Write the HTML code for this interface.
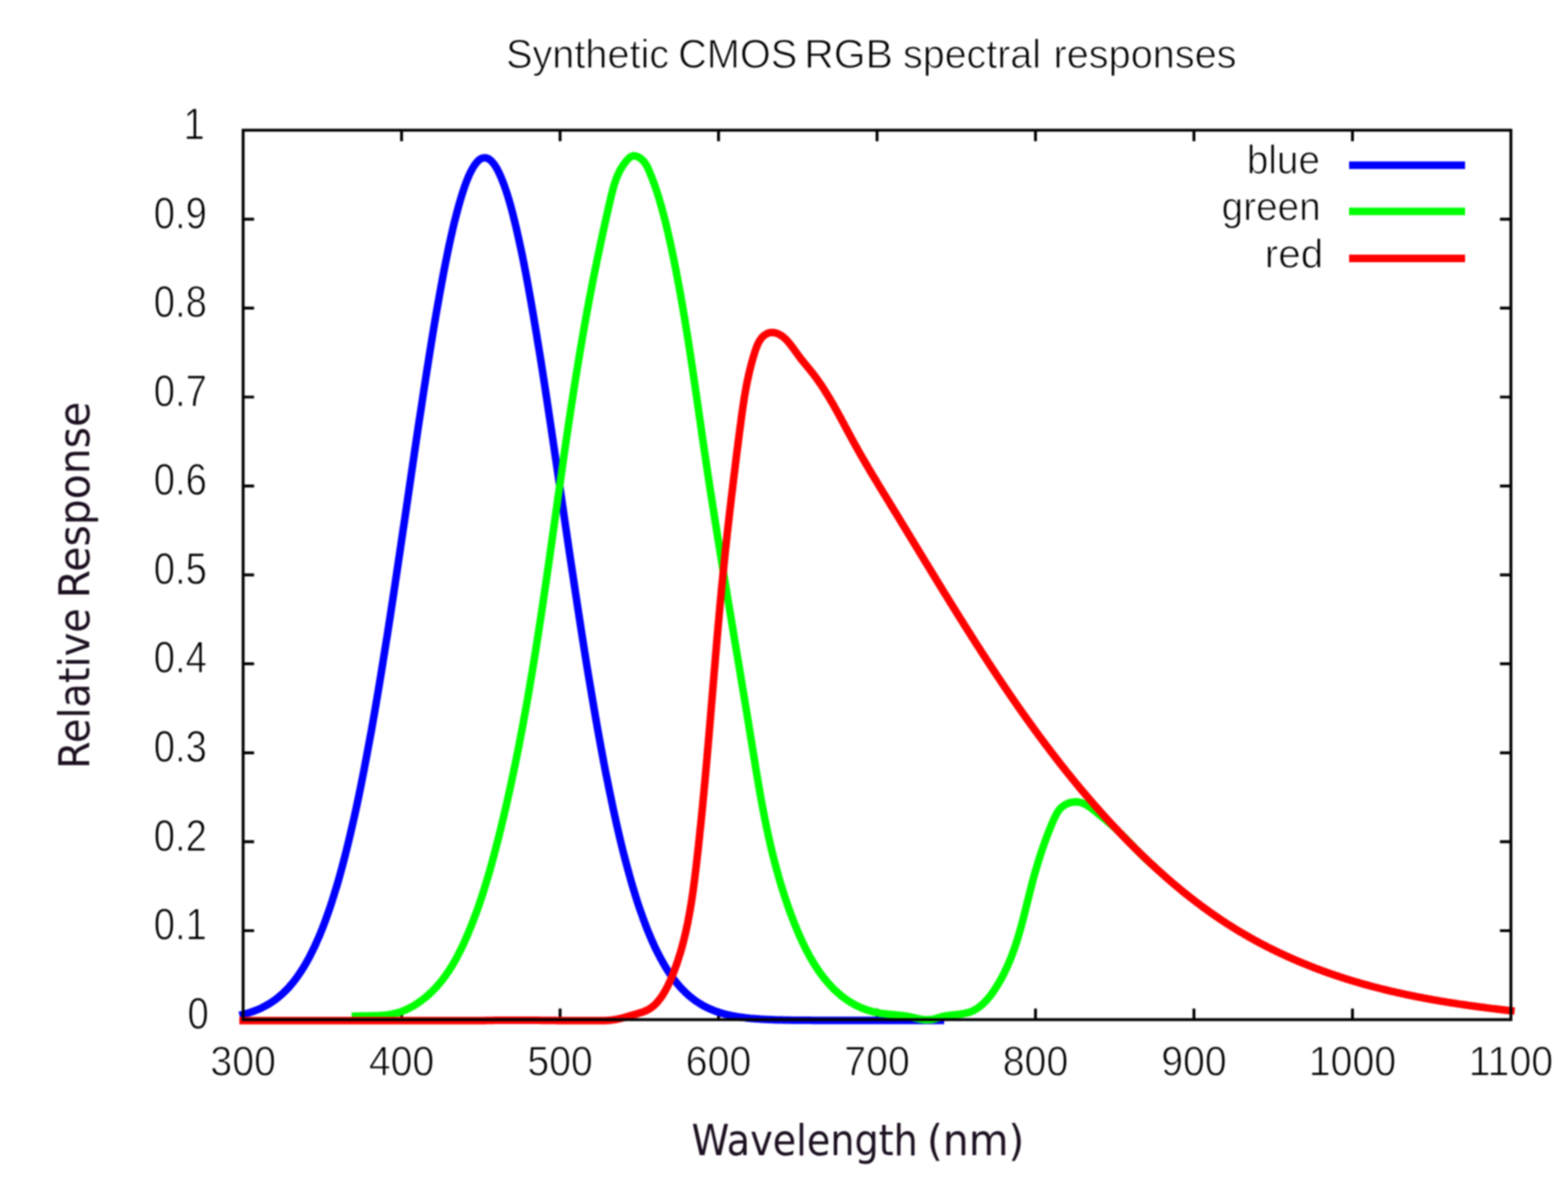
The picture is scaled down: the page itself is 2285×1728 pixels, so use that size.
<!DOCTYPE html>
<html><head><meta charset="utf-8"><title>Synthetic CMOS RGB spectral responses</title><style>html,body{margin:0;padding:0;background:#fff;overflow:hidden}svg{display:block;filter:blur(0.8px)}</style></head><body>
<svg width="2285" height="1728" viewBox="0 0 2285 1728">
<rect width="2285" height="1728" fill="#fff"/>
<g stroke="#000" stroke-width="4.2" fill="none">
<path d="M354.3,1356.0h16M2201.8,1356.0h-16M354.3,1226.4h16M2201.8,1226.4h-16M354.3,1096.8h16M2201.8,1096.8h-16M354.3,967.2h16M2201.8,967.2h-16M354.3,837.6h16M2201.8,837.6h-16M354.3,708.1h16M2201.8,708.1h-16M354.3,578.5h16M2201.8,578.5h-16M354.3,448.9h16M2201.8,448.9h-16M354.3,319.3h16M2201.8,319.3h-16M585.2,1485.6v-16M585.2,189.7v16M816.2,1485.6v-16M816.2,189.7v16M1047.1,1485.6v-16M1047.1,189.7v16M1278.1,1485.6v-16M1278.1,189.7v16M1509.0,1485.6v-16M1509.0,189.7v16M1739.9,1485.6v-16M1739.9,189.7v16M1970.9,1485.6v-16M1970.9,189.7v16"/>
</g>
<g fill="none" stroke-width="11" stroke-linejoin="round" stroke-linecap="square">
<polyline stroke="#0000ff" points="354.3,1478.0 356.6,1477.4 358.9,1476.7 361.2,1476.1 363.5,1475.4 365.8,1474.6 368.2,1473.8 370.5,1473.0 372.8,1472.1 375.1,1471.2 377.4,1470.2 379.7,1469.2 382.0,1468.1 384.3,1466.9 386.6,1465.7 388.9,1464.4 391.2,1463.1 393.6,1461.7 395.9,1460.2 398.2,1458.6 400.5,1457.0 402.8,1455.3 405.1,1453.4 407.4,1451.5 409.7,1449.6 412.0,1447.5 414.3,1445.3 416.7,1443.0 419.0,1440.6 421.3,1438.1 423.6,1435.4 425.9,1432.7 428.2,1429.8 430.5,1426.8 432.8,1423.7 435.1,1420.5 437.4,1417.1 439.7,1413.5 442.1,1409.9 444.4,1406.0 446.7,1402.0 449.0,1397.9 451.3,1393.6 453.6,1389.1 455.9,1384.4 458.2,1379.6 460.5,1374.6 462.8,1369.4 465.2,1364.1 467.5,1358.5 469.8,1352.7 472.1,1346.8 474.4,1340.6 476.7,1334.2 479.0,1327.7 481.3,1320.9 483.6,1313.9 485.9,1306.6 488.2,1299.2 490.6,1291.5 492.9,1283.6 495.2,1275.5 497.5,1267.1 499.8,1258.5 502.1,1249.7 504.4,1240.6 506.7,1231.3 509.0,1221.8 511.3,1212.0 513.6,1202.0 516.0,1191.7 518.3,1181.2 520.6,1170.5 522.9,1159.5 525.2,1148.3 527.5,1136.8 529.8,1125.2 532.1,1113.3 534.4,1101.1 536.7,1088.8 539.0,1076.2 541.4,1063.4 543.7,1050.4 546.0,1037.2 548.3,1023.7 550.6,1010.1 552.9,996.3 555.2,982.3 557.5,968.1 559.8,953.8 562.1,939.3 564.5,924.6 566.8,909.8 569.1,894.9 571.4,879.8 573.7,864.6 576.0,849.3 578.3,833.9 580.6,818.4 582.9,802.9 585.2,787.3 587.5,771.6 589.9,755.9 592.2,740.1 594.5,724.4 596.8,708.6 599.1,692.9 601.4,677.2 603.7,661.5 606.0,645.9 608.3,630.4 610.6,614.9 613.0,599.6 615.3,584.3 617.6,569.2 619.9,554.3 622.2,539.4 624.5,524.8 626.8,510.4 629.1,496.1 631.4,482.1 633.7,468.4 636.0,454.8 638.4,441.6 640.7,428.6 643.0,415.9 645.3,403.6 647.6,391.5 649.9,379.8 652.2,368.5 654.5,357.5 656.8,346.9 659.1,336.7 661.4,326.8 663.8,317.4 666.1,308.5 668.4,299.9 670.7,291.9 673.0,284.2 675.3,277.1 677.6,270.4 679.9,264.2 682.2,258.5 684.5,253.3 686.9,248.6 689.2,244.4 691.5,240.8 693.8,237.6 696.1,235.0 698.4,232.9 700.7,231.4 703.0,230.3 705.3,229.9 707.6,229.9 709.9,230.5 712.3,231.6 714.6,233.3 716.9,235.5 719.2,238.2 721.5,241.4 723.8,245.2 726.1,249.5 728.4,254.3 730.7,259.6 733.0,265.4 735.3,271.7 737.7,278.5 740.0,285.7 742.3,293.4 744.6,301.6 746.9,310.2 749.2,319.3 751.5,328.8 753.8,338.7 756.1,349.0 758.4,359.6 760.8,370.7 763.1,382.1 765.4,393.9 767.7,406.0 770.0,418.4 772.3,431.2 774.6,444.2 776.9,457.5 779.2,471.1 781.5,484.9 783.8,499.0 786.2,513.3 788.5,527.7 790.8,542.4 793.1,557.2 795.4,572.2 797.7,587.4 800.0,602.6 802.3,618.0 804.6,633.5 806.9,649.0 809.2,664.7 811.6,680.3 813.9,696.1 816.2,711.8 818.5,727.5 820.8,743.3 823.1,759.0 825.4,774.7 827.7,790.4 830.0,806.0 832.3,821.5 834.7,837.0 837.0,852.4 839.3,867.7 841.6,882.8 843.9,897.9 846.2,912.8 848.5,927.6 850.8,942.2 853.1,956.7 855.4,971.0 857.7,985.1 860.1,999.1 862.4,1012.9 864.7,1026.4 867.0,1039.8 869.3,1053.0 871.6,1066.0 873.9,1078.7 876.2,1091.3 878.5,1103.6 880.8,1115.7 883.1,1127.5 885.5,1139.2 887.8,1150.6 890.1,1161.7 892.4,1172.6 894.7,1183.3 897.0,1193.8 899.3,1204.0 901.6,1214.0 903.9,1223.7 906.2,1233.2 908.5,1242.5 910.9,1251.5 913.2,1260.3 915.5,1268.8 917.8,1277.1 920.1,1285.2 922.4,1293.1 924.7,1300.7 927.0,1308.1 929.3,1315.3 931.6,1322.2 934.0,1329.0 936.3,1335.5 938.6,1341.9 940.9,1348.0 943.2,1353.9 945.5,1359.6 947.8,1365.1 950.1,1370.5 952.4,1375.6 954.7,1380.6 957.0,1385.4 959.4,1390.0 961.7,1394.5 964.0,1398.7 966.3,1402.8 968.6,1406.8 970.9,1410.6 973.2,1414.3 975.5,1417.8 977.8,1421.1 980.1,1424.4 982.5,1427.5 984.8,1430.4 987.1,1433.3 989.4,1436.0 991.7,1438.6 994.0,1441.1 996.3,1443.4 998.6,1445.7 1000.9,1447.9 1003.2,1450.0 1005.5,1451.9 1007.9,1453.8 1010.2,1455.6 1012.5,1457.3 1014.8,1459.0 1017.1,1460.5 1019.4,1462.0 1021.7,1463.4 1024.0,1464.7 1026.3,1466.0 1028.6,1467.2 1030.9,1468.3 1033.3,1469.4 1035.6,1470.4 1037.9,1471.4 1040.2,1472.3 1042.5,1473.2 1044.8,1474.0 1047.1,1474.8 1049.4,1475.5 1051.7,1476.2 1054.0,1476.9 1056.4,1477.5 1058.7,1478.1 1061.0,1478.6 1063.3,1479.1 1065.6,1479.6 1067.9,1480.1 1070.2,1480.5 1072.5,1480.9 1074.8,1481.3 1077.1,1481.7 1079.4,1482.0 1081.8,1482.3 1084.1,1482.6 1086.4,1482.9 1088.7,1483.2 1091.0,1483.4 1093.3,1483.7 1095.6,1483.9 1097.9,1484.1 1100.2,1484.3 1102.5,1484.5 1104.8,1484.6 1107.2,1484.8 1109.5,1484.9 1111.8,1485.1 1114.1,1485.2 1116.4,1485.3 1118.7,1485.4 1121.0,1485.5 1123.3,1485.6 1125.6,1485.7 1127.9,1485.8 1130.2,1485.9 1132.6,1485.9 1134.9,1486.0 1137.2,1486.1 1139.5,1486.1 1141.8,1486.2 1144.1,1486.2 1146.4,1486.3 1148.7,1486.3 1151.0,1486.3 1153.3,1486.4 1155.7,1486.4 1158.0,1486.4 1160.3,1486.5 1162.6,1486.5 1164.9,1486.5 1167.2,1486.5 1169.5,1486.6 1171.8,1486.6 1174.1,1486.6 1176.4,1486.6 1178.7,1486.6 1181.1,1486.6 1183.4,1486.7 1185.7,1486.7 1188.0,1486.7 1190.3,1486.7 1192.6,1486.7 1194.9,1486.7 1197.2,1486.7 1199.5,1486.7 1201.8,1486.7 1204.2,1486.7 1206.5,1486.7 1208.8,1486.7 1211.1,1486.8 1213.4,1486.8 1215.7,1486.8 1218.0,1486.8 1220.3,1486.8 1222.6,1486.8 1224.9,1486.8 1227.2,1486.8 1229.6,1486.8 1231.9,1486.8 1234.2,1486.8 1236.5,1486.8 1238.8,1486.8 1241.1,1486.8 1243.4,1486.8 1245.7,1486.8 1248.0,1486.8 1250.3,1486.8 1252.6,1486.8 1255.0,1486.8 1257.3,1486.8 1259.6,1486.8 1261.9,1486.8 1264.2,1486.8 1266.5,1486.8 1268.8,1486.8 1271.1,1486.8 1273.4,1486.8 1275.7,1486.8 1278.1,1486.8 1280.4,1486.8 1282.7,1486.8 1285.0,1486.8 1287.3,1486.8 1289.6,1486.8 1291.9,1486.8 1294.2,1486.8 1296.5,1486.8 1298.8,1486.8 1301.1,1486.8 1303.5,1486.8 1305.8,1486.8 1308.1,1486.8 1310.4,1486.8 1312.7,1486.8 1315.0,1486.8 1317.3,1486.8 1319.6,1486.8 1321.9,1486.8 1324.2,1486.8 1326.5,1486.8 1328.9,1486.8 1331.2,1486.8 1333.5,1486.8 1335.8,1486.8 1338.1,1486.8 1340.4,1486.8 1342.7,1486.8 1345.0,1486.8 1347.3,1486.8 1349.6,1486.8 1352.0,1486.8 1354.3,1486.8 1356.6,1486.8 1358.9,1486.8 1361.2,1486.8 1363.5,1486.8 1365.8,1486.8 1368.1,1486.8 1370.4,1486.8"/>
<polyline stroke="#00ff00" points="518.0,1480.6 520.4,1480.5 522.8,1480.4 525.2,1480.3 527.5,1480.3 530.0,1480.3 532.4,1480.2 534.8,1480.2 537.2,1480.2 539.6,1480.1 542.0,1480.1 544.5,1480.0 546.9,1480.0 549.3,1479.9 551.7,1479.8 554.1,1479.6 556.6,1479.5 559.0,1479.3 561.4,1479.0 563.8,1478.8 566.1,1478.5 568.5,1478.1 570.9,1477.7 573.2,1477.2 575.5,1476.6 577.8,1476.0 580.1,1475.4 582.4,1474.7 584.7,1473.9 586.9,1473.1 589.1,1472.2 591.3,1471.2 593.5,1470.2 595.7,1469.2 597.8,1468.1 600.0,1466.9 602.1,1465.8 604.1,1464.5 606.2,1463.2 608.2,1461.9 610.2,1460.6 612.2,1459.2 614.2,1457.8 616.1,1456.3 618.0,1454.8 619.9,1453.3 621.8,1451.7 623.6,1450.1 625.4,1448.5 627.2,1446.8 628.9,1445.2 630.7,1443.5 632.3,1441.8 634.0,1440.0 635.6,1438.3 637.2,1436.5 638.8,1434.7 640.4,1432.9 641.9,1431.0 643.4,1429.2 644.9,1427.3 646.3,1425.4 647.8,1423.5 649.2,1421.5 650.6,1419.6 651.9,1417.6 653.3,1415.7 654.6,1413.7 655.9,1411.6 657.2,1409.6 658.4,1407.6 659.7,1405.5 660.9,1403.5 662.1,1401.4 663.3,1399.3 664.4,1397.2 665.6,1395.1 666.7,1393.0 667.8,1390.8 668.9,1388.7 670.0,1386.5 671.1,1384.4 672.2,1382.2 673.2,1380.0 674.2,1377.8 675.3,1375.6 676.3,1373.4 677.3,1371.2 678.2,1369.0 679.2,1366.8 680.2,1364.6 681.1,1362.4 682.1,1360.2 683.0,1357.9 683.9,1355.7 684.8,1353.5 685.8,1351.2 686.7,1349.0 687.5,1346.8 688.4,1344.5 689.3,1342.3 690.2,1340.0 691.0,1337.8 691.9,1335.5 692.7,1333.2 693.5,1331.0 694.4,1328.7 695.2,1326.5 696.0,1324.2 696.8,1321.9 697.6,1319.7 698.4,1317.4 699.2,1315.1 699.9,1312.8 700.7,1310.5 701.5,1308.3 702.2,1306.0 703.0,1303.7 703.7,1301.4 704.5,1299.1 705.2,1296.8 705.9,1294.5 706.6,1292.2 707.3,1289.9 708.0,1287.6 708.7,1285.3 709.4,1283.0 710.1,1280.7 710.8,1278.4 711.5,1276.1 712.2,1273.8 712.8,1271.5 713.5,1269.2 714.2,1266.9 714.8,1264.5 715.5,1262.2 716.1,1259.9 716.7,1257.6 717.4,1255.3 718.0,1253.0 718.6,1250.6 719.3,1248.3 719.9,1246.0 720.5,1243.7 721.1,1241.3 721.7,1239.0 722.3,1236.7 722.9,1234.3 723.5,1232.0 724.1,1229.7 724.7,1227.4 725.3,1225.0 725.9,1222.7 726.5,1220.4 727.1,1218.0 727.7,1215.7 728.2,1213.4 728.8,1211.0 729.4,1208.7 730.0,1206.4 730.5,1204.0 731.1,1201.7 731.7,1199.3 732.2,1197.0 732.8,1194.7 733.3,1192.3 733.9,1190.0 734.5,1187.6 735.0,1185.3 735.5,1183.0 736.1,1180.6 736.6,1178.3 737.2,1175.9 737.7,1173.6 738.3,1171.3 738.8,1168.9 739.3,1166.6 739.8,1164.2 740.4,1161.9 740.9,1159.5 741.4,1157.2 741.9,1154.8 742.5,1152.5 743.0,1150.1 743.5,1147.8 744.0,1145.4 744.5,1143.1 745.0,1140.7 745.5,1138.4 746.0,1136.0 746.5,1133.7 747.0,1131.3 747.5,1129.0 748.0,1126.6 748.5,1124.3 749.0,1121.9 749.5,1119.6 750.0,1117.2 750.5,1114.9 751.0,1112.5 751.4,1110.2 751.9,1107.8 752.4,1105.5 752.9,1103.1 753.3,1100.7 753.8,1098.4 754.3,1096.0 754.8,1093.7 755.2,1091.3 755.7,1089.0 756.2,1086.6 756.6,1084.2 757.1,1081.9 757.5,1079.5 758.0,1077.2 758.4,1074.8 758.9,1072.4 759.3,1070.1 759.8,1067.7 760.2,1065.4 760.7,1063.0 761.1,1060.6 761.6,1058.3 762.0,1055.9 762.5,1053.5 762.9,1051.2 763.3,1048.8 763.8,1046.4 764.2,1044.1 764.6,1041.7 765.1,1039.4 765.5,1037.0 765.9,1034.6 766.3,1032.3 766.8,1029.9 767.2,1027.5 767.6,1025.2 768.0,1022.8 768.4,1020.4 768.9,1018.0 769.3,1015.7 769.7,1013.3 770.1,1010.9 770.5,1008.6 770.9,1006.2 771.3,1003.8 771.7,1001.5 772.1,999.1 772.5,996.7 772.9,994.4 773.3,992.0 773.7,989.6 774.1,987.2 774.5,984.9 774.9,982.5 775.3,980.1 775.7,977.7 776.1,975.4 776.5,973.0 776.9,970.6 777.3,968.3 777.7,965.9 778.1,963.5 778.5,961.1 778.8,958.8 779.2,956.4 779.6,954.0 780.0,951.6 780.4,949.3 780.7,946.9 781.1,944.5 781.5,942.1 781.9,939.7 782.2,937.4 782.6,935.0 783.0,932.6 783.4,930.2 783.7,927.9 784.1,925.5 784.5,923.1 784.8,920.7 785.2,918.3 785.6,916.0 785.9,913.6 786.3,911.2 786.7,908.8 787.0,906.5 787.4,904.1 787.8,901.7 788.1,899.3 788.5,896.9 788.8,894.6 789.2,892.2 789.6,889.8 789.9,887.4 790.3,885.0 790.6,882.7 791.0,880.3 791.3,877.9 791.7,875.5 792.0,873.1 792.4,870.7 792.7,868.4 793.1,866.0 793.4,863.6 793.8,861.2 794.1,858.8 794.5,856.5 794.8,854.1 795.2,851.7 795.5,849.3 795.9,846.9 796.2,844.5 796.6,842.2 796.9,839.8 797.3,837.4 797.6,835.0 797.9,832.6 798.3,830.2 798.6,827.9 799.0,825.5 799.3,823.1 799.7,820.7 800.0,818.3 800.3,815.9 800.7,813.6 801.0,811.2 801.4,808.8 801.7,806.4 802.0,804.0 802.4,801.6 802.7,799.3 803.0,796.9 803.4,794.5 803.7,792.1 804.1,789.7 804.4,787.3 804.7,785.0 805.1,782.6 805.4,780.2 805.7,777.8 806.1,775.4 806.4,773.0 806.8,770.6 807.1,768.3 807.4,765.9 807.8,763.5 808.1,761.1 808.4,758.7 808.8,756.3 809.1,754.0 809.4,751.6 809.8,749.2 810.1,746.8 810.4,744.4 810.8,742.0 811.1,739.7 811.5,737.3 811.8,734.9 812.1,732.5 812.5,730.1 812.8,727.7 813.1,725.3 813.5,723.0 813.8,720.6 814.1,718.2 814.5,715.8 814.8,713.4 815.1,711.0 815.5,708.7 815.8,706.3 816.2,703.9 816.5,701.5 816.8,699.1 817.2,696.7 817.5,694.4 817.9,692.0 818.2,689.6 818.5,687.2 818.9,684.8 819.2,682.4 819.6,680.1 819.9,677.7 820.2,675.3 820.6,672.9 820.9,670.5 821.3,668.1 821.6,665.8 821.9,663.4 822.3,661.0 822.6,658.6 823.0,656.2 823.3,653.8 823.7,651.5 824.0,649.1 824.4,646.7 824.7,644.3 825.1,641.9 825.4,639.6 825.8,637.2 826.1,634.8 826.5,632.4 826.8,630.0 827.2,627.7 827.5,625.3 827.9,622.9 828.2,620.5 828.6,618.1 828.9,615.8 829.3,613.4 829.6,611.0 830.0,608.6 830.4,606.2 830.7,603.9 831.1,601.5 831.4,599.1 831.8,596.7 832.2,594.4 832.5,592.0 832.9,589.6 833.3,587.2 833.6,584.8 834.0,582.5 834.4,580.1 834.7,577.7 835.1,575.3 835.5,573.0 835.8,570.6 836.2,568.2 836.6,565.8 836.9,563.5 837.3,561.1 837.7,558.7 838.1,556.3 838.5,554.0 838.8,551.6 839.2,549.2 839.6,546.8 840.0,544.5 840.4,542.1 840.7,539.7 841.1,537.3 841.5,535.0 841.9,532.6 842.3,530.2 842.7,527.9 843.1,525.5 843.5,523.1 843.9,520.7 844.3,518.4 844.6,516.0 845.0,513.6 845.4,511.3 845.8,508.9 846.2,506.5 846.6,504.2 847.1,501.8 847.5,499.4 847.9,497.0 848.3,494.7 848.7,492.3 849.1,489.9 849.5,487.6 849.9,485.2 850.3,482.8 850.7,480.5 851.2,478.1 851.6,475.7 852.0,473.4 852.4,471.0 852.8,468.7 853.3,466.3 853.7,463.9 854.1,461.6 854.6,459.2 855.0,456.8 855.4,454.5 855.8,452.1 856.3,449.8 856.7,447.4 857.2,445.0 857.6,442.7 858.0,440.3 858.5,437.9 858.9,435.6 859.4,433.2 859.8,430.9 860.3,428.5 860.7,426.2 861.2,423.8 861.6,421.4 862.1,419.1 862.6,416.7 863.0,414.4 863.5,412.0 863.9,409.7 864.4,407.3 864.9,404.9 865.3,402.6 865.8,400.2 866.3,397.9 866.8,395.5 867.2,393.2 867.7,390.8 868.2,388.5 868.7,386.1 869.2,383.8 869.6,381.4 870.1,379.0 870.6,376.7 871.1,374.3 871.6,372.0 872.1,369.6 872.6,367.3 873.1,364.9 873.6,362.6 874.1,360.2 874.6,357.8 875.1,355.5 875.6,353.1 876.1,350.8 876.6,348.4 877.1,346.1 877.6,343.7 878.1,341.4 878.6,339.0 879.1,336.6 879.7,334.3 880.2,331.9 880.7,329.6 881.2,327.2 881.7,324.9 882.3,322.5 882.8,320.1 883.3,317.8 883.8,315.4 884.4,313.1 884.9,310.7 885.4,308.3 886.0,306.0 886.5,303.6 887.1,301.2 887.6,298.9 888.1,296.5 888.7,294.1 889.2,291.8 889.8,289.4 890.3,287.1 890.9,284.7 891.5,282.3 892.1,280.0 892.7,277.6 893.3,275.3 893.9,273.0 894.6,270.7 895.3,268.4 896.1,266.1 896.8,263.8 897.6,261.6 898.5,259.3 899.4,257.1 900.3,254.9 901.3,252.8 902.3,250.6 903.4,248.5 904.5,246.4 905.7,244.4 907.0,242.4 908.3,240.4 909.7,238.4 911.2,236.5 912.7,234.6 914.3,232.8 916.0,231.0 917.8,229.4 919.7,228.1 921.7,227.3 923.9,227.0 926.2,227.2 928.5,228.0 930.8,229.1 933.1,230.5 935.2,232.2 937.0,233.9 938.7,235.9 940.2,237.9 941.5,239.9 942.8,242.1 943.9,244.3 944.9,246.5 945.9,248.7 946.8,251.0 947.7,253.3 948.6,255.5 949.5,257.8 950.4,260.0 951.3,262.3 952.1,264.5 952.9,266.8 953.8,269.1 954.6,271.3 955.3,273.6 956.1,275.9 956.9,278.1 957.6,280.4 958.3,282.7 959.1,284.9 959.8,287.2 960.5,289.5 961.1,291.8 961.8,294.1 962.5,296.3 963.1,298.6 963.8,300.9 964.4,303.2 965.1,305.5 965.7,307.8 966.3,310.1 966.9,312.4 967.5,314.7 968.1,317.0 968.7,319.4 969.3,321.7 969.9,324.0 970.4,326.3 971.0,328.7 971.6,331.0 972.1,333.3 972.7,335.7 973.2,338.0 973.8,340.4 974.3,342.7 974.8,345.1 975.4,347.4 975.9,349.8 976.4,352.1 977.0,354.5 977.5,356.9 978.0,359.2 978.5,361.6 979.0,363.9 979.5,366.3 980.0,368.7 980.5,371.0 981.0,373.4 981.5,375.8 981.9,378.2 982.4,380.5 982.9,382.9 983.4,385.3 983.8,387.6 984.3,390.0 984.8,392.4 985.2,394.7 985.7,397.1 986.1,399.5 986.6,401.9 987.1,404.2 987.5,406.6 987.9,409.0 988.4,411.3 988.8,413.7 989.3,416.1 989.7,418.5 990.1,420.8 990.6,423.2 991.0,425.6 991.4,427.9 991.9,430.3 992.3,432.7 992.7,435.0 993.1,437.4 993.5,439.8 993.9,442.2 994.4,444.5 994.8,446.9 995.2,449.3 995.6,451.6 996.0,454.0 996.4,456.4 996.8,458.8 997.2,461.1 997.6,463.5 998.0,465.9 998.4,468.2 998.8,470.6 999.1,473.0 999.5,475.4 999.9,477.7 1000.3,480.1 1000.7,482.5 1001.1,484.8 1001.4,487.2 1001.8,489.6 1002.2,492.0 1002.6,494.3 1003.0,496.7 1003.3,499.1 1003.7,501.4 1004.1,503.8 1004.4,506.2 1004.8,508.6 1005.2,510.9 1005.5,513.3 1005.9,515.7 1006.3,518.0 1006.6,520.4 1007.0,522.8 1007.3,525.2 1007.7,527.5 1008.0,529.9 1008.4,532.3 1008.8,534.7 1009.1,537.0 1009.5,539.4 1009.8,541.8 1010.2,544.1 1010.5,546.5 1010.9,548.9 1011.2,551.3 1011.6,553.6 1011.9,556.0 1012.3,558.4 1012.6,560.8 1013.0,563.1 1013.3,565.5 1013.6,567.9 1014.0,570.2 1014.3,572.6 1014.7,575.0 1015.0,577.4 1015.4,579.7 1015.7,582.1 1016.1,584.5 1016.4,586.9 1016.7,589.2 1017.1,591.6 1017.4,594.0 1017.8,596.4 1018.1,598.7 1018.4,601.1 1018.8,603.5 1019.1,605.9 1019.5,608.2 1019.8,610.6 1020.2,613.0 1020.5,615.4 1020.8,617.7 1021.2,620.1 1021.5,622.5 1021.9,624.9 1022.2,627.2 1022.5,629.6 1022.9,632.0 1023.2,634.4 1023.6,636.8 1023.9,639.1 1024.3,641.5 1024.6,643.9 1025.0,646.3 1025.3,648.6 1025.7,651.0 1026.0,653.4 1026.4,655.8 1026.7,658.2 1027.1,660.5 1027.4,662.9 1027.8,665.3 1028.1,667.7 1028.5,670.0 1028.8,672.4 1029.2,674.8 1029.5,677.2 1029.9,679.6 1030.2,681.9 1030.6,684.3 1031.0,686.7 1031.3,689.1 1031.7,691.5 1032.0,693.8 1032.4,696.2 1032.8,698.6 1033.1,701.0 1033.5,703.4 1033.8,705.7 1034.2,708.1 1034.6,710.5 1034.9,712.9 1035.3,715.3 1035.7,717.6 1036.0,720.0 1036.4,722.4 1036.8,724.8 1037.2,727.2 1037.5,729.5 1037.9,731.9 1038.3,734.3 1038.6,736.7 1039.0,739.1 1039.4,741.4 1039.8,743.8 1040.1,746.2 1040.5,748.6 1040.9,751.0 1041.3,753.4 1041.6,755.7 1042.0,758.1 1042.4,760.5 1042.8,762.9 1043.2,765.3 1043.5,767.6 1043.9,770.0 1044.3,772.4 1044.7,774.8 1045.1,777.2 1045.4,779.5 1045.8,781.9 1046.2,784.3 1046.6,786.7 1047.0,789.1 1047.4,791.5 1047.7,793.8 1048.1,796.2 1048.5,798.6 1048.9,801.0 1049.3,803.4 1049.7,805.7 1050.1,808.1 1050.5,810.5 1050.8,812.9 1051.2,815.3 1051.6,817.7 1052.0,820.0 1052.4,822.4 1052.8,824.8 1053.2,827.2 1053.6,829.6 1054.0,831.9 1054.3,834.3 1054.7,836.7 1055.1,839.1 1055.5,841.5 1055.9,843.9 1056.3,846.2 1056.7,848.6 1057.1,851.0 1057.5,853.4 1057.9,855.8 1058.3,858.1 1058.7,860.5 1059.1,862.9 1059.5,865.3 1059.8,867.7 1060.2,870.0 1060.6,872.4 1061.0,874.8 1061.4,877.2 1061.8,879.6 1062.2,881.9 1062.6,884.3 1063.0,886.7 1063.4,889.1 1063.8,891.5 1064.2,893.8 1064.6,896.2 1065.0,898.6 1065.4,901.0 1065.8,903.4 1066.2,905.7 1066.6,908.1 1067.0,910.5 1067.4,912.9 1067.8,915.2 1068.2,917.6 1068.6,920.0 1068.9,922.4 1069.3,924.8 1069.7,927.1 1070.1,929.5 1070.5,931.9 1070.9,934.3 1071.3,936.6 1071.7,939.0 1072.1,941.4 1072.5,943.8 1072.9,946.1 1073.3,948.5 1073.7,950.9 1074.1,953.3 1074.5,955.6 1074.9,958.0 1075.3,960.4 1075.7,962.8 1076.1,965.1 1076.5,967.5 1076.9,969.9 1077.3,972.3 1077.7,974.6 1078.1,977.0 1078.5,979.4 1078.9,981.8 1079.2,984.1 1079.6,986.5 1080.0,988.9 1080.4,991.3 1080.8,993.6 1081.2,996.0 1081.6,998.4 1082.0,1000.7 1082.4,1003.1 1082.8,1005.5 1083.2,1007.9 1083.6,1010.2 1084.0,1012.6 1084.4,1015.0 1084.8,1017.3 1085.1,1019.7 1085.5,1022.1 1085.9,1024.4 1086.3,1026.8 1086.7,1029.2 1087.1,1031.5 1087.5,1033.9 1087.9,1036.3 1088.3,1038.6 1088.7,1041.0 1089.0,1043.4 1089.4,1045.7 1089.8,1048.1 1090.2,1050.5 1090.6,1052.8 1091.0,1055.2 1091.4,1057.6 1091.7,1059.9 1092.1,1062.3 1092.5,1064.7 1092.9,1067.0 1093.3,1069.4 1093.7,1071.8 1094.1,1074.1 1094.4,1076.5 1094.8,1078.8 1095.2,1081.2 1095.6,1083.6 1096.0,1085.9 1096.3,1088.3 1096.7,1090.7 1097.1,1093.0 1097.5,1095.4 1097.9,1097.7 1098.3,1100.1 1098.6,1102.5 1099.0,1104.8 1099.4,1107.2 1099.8,1109.5 1100.2,1111.9 1100.6,1114.2 1100.9,1116.6 1101.3,1119.0 1101.7,1121.3 1102.1,1123.7 1102.5,1126.0 1102.9,1128.4 1103.3,1130.7 1103.7,1133.1 1104.1,1135.4 1104.5,1137.8 1104.9,1140.1 1105.3,1142.5 1105.7,1144.9 1106.1,1147.2 1106.5,1149.6 1106.9,1151.9 1107.3,1154.3 1107.7,1156.6 1108.2,1159.0 1108.6,1161.3 1109.0,1163.7 1109.4,1166.0 1109.9,1168.4 1110.3,1170.7 1110.7,1173.0 1111.2,1175.4 1111.6,1177.7 1112.1,1180.1 1112.5,1182.4 1113.0,1184.8 1113.4,1187.1 1113.9,1189.5 1114.3,1191.8 1114.8,1194.2 1115.3,1196.5 1115.8,1198.8 1116.2,1201.2 1116.7,1203.5 1117.2,1205.9 1117.7,1208.2 1118.2,1210.5 1118.7,1212.9 1119.2,1215.2 1119.7,1217.6 1120.2,1219.9 1120.7,1222.2 1121.3,1224.6 1121.8,1226.9 1122.3,1229.2 1122.9,1231.6 1123.4,1233.9 1124.0,1236.3 1124.5,1238.6 1125.1,1240.9 1125.7,1243.3 1126.2,1245.6 1126.8,1247.9 1127.4,1250.2 1128.0,1252.6 1128.6,1254.9 1129.2,1257.2 1129.8,1259.6 1130.4,1261.9 1131.1,1264.2 1131.7,1266.6 1132.3,1268.9 1133.0,1271.2 1133.6,1273.5 1134.3,1275.9 1134.9,1278.2 1135.6,1280.5 1136.3,1282.8 1137.0,1285.2 1137.7,1287.5 1138.4,1289.8 1139.1,1292.1 1139.8,1294.4 1140.5,1296.8 1141.3,1299.1 1142.0,1301.4 1142.7,1303.7 1143.5,1306.0 1144.3,1308.4 1145.0,1310.7 1145.8,1313.0 1146.6,1315.3 1147.4,1317.6 1148.2,1319.9 1149.0,1322.3 1149.9,1324.6 1150.7,1326.9 1151.5,1329.2 1152.4,1331.5 1153.2,1333.8 1154.1,1336.1 1155.0,1338.4 1155.9,1340.7 1156.8,1343.1 1157.7,1345.4 1158.6,1347.7 1159.5,1350.0 1160.5,1352.3 1161.4,1354.6 1162.4,1356.8 1163.4,1359.1 1164.3,1361.4 1165.3,1363.7 1166.3,1365.9 1167.4,1368.2 1168.4,1370.4 1169.4,1372.7 1170.5,1374.9 1171.6,1377.1 1172.6,1379.4 1173.7,1381.6 1174.9,1383.8 1176.0,1385.9 1177.1,1388.1 1178.3,1390.3 1179.4,1392.4 1180.6,1394.5 1181.8,1396.6 1183.1,1398.7 1184.3,1400.8 1185.5,1402.9 1186.8,1405.0 1188.1,1407.0 1189.4,1409.0 1190.7,1411.0 1192.0,1413.0 1193.4,1415.0 1194.7,1416.9 1196.1,1418.8 1197.5,1420.7 1198.9,1422.6 1200.4,1424.5 1201.8,1426.3 1203.3,1428.1 1204.8,1429.9 1206.3,1431.7 1207.8,1433.4 1209.4,1435.2 1211.0,1436.8 1212.6,1438.5 1214.2,1440.2 1215.8,1441.8 1217.5,1443.4 1219.2,1444.9 1220.9,1446.4 1222.6,1447.9 1224.3,1449.4 1226.1,1450.9 1227.9,1452.3 1229.7,1453.6 1231.5,1455.0 1233.4,1456.3 1235.3,1457.6 1237.2,1458.8 1239.1,1460.0 1241.0,1461.2 1243.0,1462.4 1245.0,1463.5 1247.1,1464.5 1249.1,1465.6 1251.2,1466.6 1253.3,1467.5 1255.4,1468.5 1257.6,1469.3 1259.7,1470.2 1262.0,1471.0 1264.2,1471.7 1266.4,1472.5 1268.7,1473.1 1271.0,1473.8 1273.4,1474.4 1275.8,1474.9 1278.2,1475.4 1280.6,1475.9 1283.0,1476.3 1285.5,1476.7 1288.0,1477.0 1290.6,1477.3 1293.1,1477.6 1295.6,1477.9 1298.2,1478.1 1300.7,1478.3 1303.3,1478.6 1305.8,1478.8 1308.3,1479.0 1310.8,1479.3 1313.3,1479.5 1315.8,1479.8 1318.2,1480.2 1320.6,1480.5 1322.9,1480.9 1325.2,1481.3 1327.5,1481.8 1329.7,1482.3 1331.9,1482.9 1334.1,1483.4 1336.4,1483.9 1338.6,1484.4 1341.0,1484.8 1343.3,1485.2 1345.8,1485.5 1348.2,1485.7 1350.6,1485.8 1353.0,1485.8 1355.4,1485.6 1357.8,1485.4 1360.1,1485.0 1362.4,1484.4 1364.6,1483.8 1366.9,1483.1 1369.1,1482.4 1371.3,1481.7 1373.6,1481.1 1376.0,1480.6 1378.3,1480.1 1380.7,1479.8 1383.2,1479.4 1385.6,1479.1 1388.1,1478.9 1390.5,1478.6 1393.0,1478.4 1395.4,1478.1 1397.9,1477.8 1400.3,1477.5 1402.7,1477.2 1405.1,1476.7 1407.5,1476.2 1409.8,1475.7 1412.0,1475.0 1414.3,1474.2 1416.4,1473.4 1418.5,1472.4 1420.6,1471.3 1422.6,1470.1 1424.6,1468.9 1426.5,1467.5 1428.4,1466.1 1430.2,1464.6 1432.0,1463.1 1433.7,1461.4 1435.4,1459.7 1437.1,1458.0 1438.7,1456.2 1440.3,1454.3 1441.9,1452.4 1443.4,1450.5 1444.9,1448.5 1446.3,1446.5 1447.7,1444.5 1449.1,1442.4 1450.5,1440.3 1451.8,1438.2 1453.1,1436.1 1454.4,1434.0 1455.7,1431.9 1456.9,1429.8 1458.1,1427.7 1459.3,1425.5 1460.4,1423.4 1461.6,1421.2 1462.7,1419.0 1463.7,1416.9 1464.8,1414.7 1465.8,1412.5 1466.9,1410.3 1467.9,1408.1 1468.8,1405.9 1469.8,1403.7 1470.7,1401.5 1471.7,1399.3 1472.6,1397.1 1473.5,1394.8 1474.3,1392.6 1475.2,1390.4 1476.0,1388.1 1476.8,1385.9 1477.6,1383.6 1478.4,1381.4 1479.2,1379.1 1480.0,1376.8 1480.7,1374.6 1481.5,1372.3 1482.2,1370.0 1482.9,1367.7 1483.6,1365.4 1484.3,1363.2 1485.0,1360.9 1485.6,1358.6 1486.3,1356.3 1486.9,1354.0 1487.6,1351.7 1488.2,1349.3 1488.8,1347.0 1489.5,1344.7 1490.1,1342.4 1490.7,1340.1 1491.3,1337.8 1491.9,1335.5 1492.5,1333.1 1493.1,1330.8 1493.7,1328.5 1494.3,1326.1 1494.8,1323.8 1495.4,1321.5 1496.0,1319.2 1496.6,1316.8 1497.1,1314.5 1497.7,1312.2 1498.3,1309.8 1498.9,1307.5 1499.5,1305.2 1500.0,1302.8 1500.6,1300.5 1501.2,1298.2 1501.8,1295.8 1502.4,1293.5 1503.0,1291.2 1503.6,1288.8 1504.2,1286.5 1504.8,1284.2 1505.4,1281.9 1506.1,1279.5 1506.7,1277.2 1507.3,1274.9 1508.0,1272.6 1508.7,1270.3 1509.3,1267.9 1510.0,1265.6 1510.7,1263.3 1511.4,1261.0 1512.1,1258.7 1512.8,1256.4 1513.5,1254.1 1514.2,1251.8 1514.9,1249.5 1515.7,1247.2 1516.4,1244.9 1517.2,1242.6 1517.9,1240.3 1518.7,1238.0 1519.5,1235.7 1520.3,1233.5 1521.1,1231.2 1521.9,1228.9 1522.7,1226.6 1523.5,1224.4 1524.3,1222.1 1525.2,1219.8 1526.0,1217.6 1526.9,1215.3 1527.8,1213.1 1528.7,1210.8 1529.6,1208.6 1530.5,1206.4 1531.4,1204.1 1532.3,1201.9 1533.2,1199.7 1534.2,1197.4 1535.1,1195.2 1536.1,1193.0 1537.1,1190.8 1538.2,1188.7 1539.3,1186.6 1540.4,1184.5 1541.7,1182.5 1543.1,1180.6 1544.5,1178.8 1546.1,1177.1 1547.9,1175.5 1549.7,1174.1 1551.8,1172.7 1554.0,1171.6 1556.3,1170.6 1558.7,1169.7 1561.1,1169.1 1563.6,1168.6 1566.0,1168.4 1568.4,1168.3 1570.8,1168.5 1573.1,1168.9 1575.4,1169.5 1577.6,1170.2 1579.7,1171.1 1581.9,1172.2 1583.9,1173.3 1586.0,1174.6 1588.0,1175.9 1590.0,1177.4 1592.0,1178.8 1593.9,1180.4 1595.8,1181.9 1597.8,1183.5 1599.7,1185.1 1601.5,1186.6 1603.4,1188.1 1605.3,1189.7 1607.2,1191.2 1609.0,1192.7 1610.8,1194.3 1612.7,1195.8 1614.5,1197.4 1616.3,1198.9 1618.1,1200.5 1619.9,1202.0 1621.7,1203.6 1623.4,1205.2 1625.2,1206.8 1626.9,1208.4 1628.6,1210.1 1630.4,1211.7 1632.1,1213.4 1633.8,1215.1 1635.5,1216.8 1637.2,1218.5 1638.9,1220.2 1640.6,1221.9 1642.2,1223.6 1643.9,1225.4 1645.6,1227.1 1647.3,1228.9 1649.0,1230.6 1650.6,1232.3 1652.3,1234.1 1654.0,1235.8 1655.7,1237.6 1657.4,1239.3 1659.1,1241.0 1660.8,1242.7 1662.5,1244.4 1664.2,1246.1 1665.9,1247.8 1667.6,1249.5 1669.3,1251.2 1671.1,1252.8 1672.9,1254.5 1674.6,1256.1 1676.4,1257.7 1678.2,1259.2 1680.0,1260.8"/>
<polyline stroke="#ff0000" points="354.3,1487.0 700.0,1487.0 702.0,1487.0 704.0,1486.9 706.0,1486.9 708.0,1486.8 710.0,1486.8 712.0,1486.8 714.0,1486.7 716.0,1486.7 718.0,1486.7 720.0,1486.6 722.1,1486.6 724.1,1486.6 726.1,1486.6 728.1,1486.6 730.1,1486.5 732.1,1486.5 734.1,1486.5 736.1,1486.5 738.1,1486.5 740.1,1486.5 742.1,1486.5 744.1,1486.5 746.1,1486.5 748.1,1486.5 750.1,1486.5 752.1,1486.5 754.1,1486.5 756.1,1486.5 758.1,1486.5 760.1,1486.5 762.1,1486.5 764.1,1486.5 766.1,1486.5 768.1,1486.5 770.1,1486.5 772.1,1486.5 774.1,1486.5 776.2,1486.6 778.2,1486.6 780.2,1486.6 782.2,1486.6 784.2,1486.6 786.2,1486.6 788.2,1486.7 790.2,1486.7 792.2,1486.7 794.2,1486.7 796.2,1486.7 798.2,1486.7 800.2,1486.8 802.2,1486.8 804.2,1486.8 806.2,1486.8 808.2,1486.8 810.2,1486.8 812.2,1486.9 814.2,1486.9 816.2,1486.9 818.2,1486.9 820.2,1486.9 822.2,1486.9 824.2,1487.0 826.3,1487.0 828.3,1487.0 830.3,1487.0 832.3,1487.0 834.3,1487.0 836.3,1487.0 838.3,1487.1 840.3,1487.1 842.3,1487.1 844.3,1487.1 846.3,1487.1 848.3,1487.1 850.3,1487.1 852.3,1487.1 854.3,1487.1 856.3,1487.1 858.3,1487.1 860.3,1487.1 862.3,1487.1 864.4,1487.1 866.4,1487.1 868.4,1487.1 870.4,1487.1 872.4,1487.1 874.4,1487.1 876.4,1487.0 878.4,1487.0 880.4,1486.9 882.4,1486.9 884.4,1486.8 886.4,1486.7 888.4,1486.5 890.4,1486.3 892.3,1486.1 894.3,1485.8 896.3,1485.5 898.2,1485.2 900.2,1484.8 902.1,1484.4 904.1,1483.9 906.0,1483.5 908.0,1483.0 909.9,1482.4 911.8,1481.9 913.8,1481.3 915.7,1480.8 917.6,1480.2 919.6,1479.6 921.5,1479.1 923.5,1478.5 925.4,1477.9 927.3,1477.4 929.3,1476.8 931.2,1476.2 933.1,1475.6 935.0,1475.0 936.9,1474.4 938.8,1473.7 940.6,1472.9 942.4,1472.1 944.2,1471.2 945.9,1470.3 947.5,1469.2 949.1,1468.1 950.7,1466.9 952.2,1465.7 953.7,1464.4 955.2,1463.0 956.6,1461.5 957.9,1460.1 959.2,1458.5 960.5,1456.9 961.8,1455.3 963.0,1453.7 964.1,1452.0 965.3,1450.3 966.4,1448.5 967.5,1446.8 968.5,1445.0 969.5,1443.2 970.5,1441.5 971.5,1439.7 972.4,1437.9 973.3,1436.1 974.2,1434.3 975.0,1432.5 975.9,1430.7 976.7,1428.8 977.5,1427.0 978.2,1425.2 979.0,1423.4 979.8,1421.5 980.5,1419.7 981.2,1417.9 981.9,1416.0 982.6,1414.2 983.3,1412.3 984.0,1410.5 984.7,1408.6 985.4,1406.8 986.0,1404.9 986.7,1403.0 987.3,1401.2 987.9,1399.3 988.5,1397.4 989.1,1395.5 989.7,1393.6 990.3,1391.7 990.9,1389.8 991.5,1388.0 992.0,1386.1 992.6,1384.2 993.1,1382.2 993.7,1380.3 994.2,1378.4 994.7,1376.5 995.2,1374.6 995.7,1372.7 996.2,1370.8 996.7,1368.8 997.2,1366.9 997.6,1365.0 998.1,1363.0 998.6,1361.1 999.0,1359.2 999.5,1357.2 999.9,1355.3 1000.3,1353.3 1000.7,1351.4 1001.1,1349.4 1001.6,1347.5 1002.0,1345.5 1002.4,1343.6 1002.7,1341.6 1003.1,1339.7 1003.5,1337.7 1003.9,1335.7 1004.2,1333.8 1004.6,1331.8 1004.9,1329.8 1005.3,1327.9 1005.6,1325.9 1006.0,1323.9 1006.3,1321.9 1006.6,1320.0 1007.0,1318.0 1007.3,1316.0 1007.6,1314.0 1007.9,1312.0 1008.2,1310.1 1008.5,1308.1 1008.8,1306.1 1009.1,1304.1 1009.4,1302.1 1009.7,1300.1 1010.0,1298.1 1010.2,1296.1 1010.5,1294.1 1010.8,1292.1 1011.0,1290.1 1011.3,1288.1 1011.6,1286.2 1011.8,1284.2 1012.1,1282.2 1012.3,1280.2 1012.6,1278.2 1012.8,1276.2 1013.1,1274.2 1013.3,1272.2 1013.6,1270.2 1013.8,1268.2 1014.0,1266.2 1014.3,1264.2 1014.5,1262.2 1014.7,1260.2 1015.0,1258.2 1015.2,1256.1 1015.4,1254.1 1015.7,1252.1 1015.9,1250.1 1016.1,1248.1 1016.3,1246.1 1016.6,1244.1 1016.8,1242.1 1017.0,1240.1 1017.2,1238.1 1017.5,1236.1 1017.7,1234.1 1017.9,1232.1 1018.1,1230.1 1018.3,1228.1 1018.5,1226.1 1018.8,1224.1 1019.0,1222.1 1019.2,1220.1 1019.4,1218.1 1019.6,1216.1 1019.8,1214.1 1020.0,1212.1 1020.2,1210.1 1020.4,1208.1 1020.7,1206.1 1020.9,1204.1 1021.1,1202.1 1021.3,1200.1 1021.5,1198.1 1021.7,1196.1 1021.9,1194.1 1022.1,1192.1 1022.3,1190.1 1022.5,1188.1 1022.7,1186.1 1022.9,1184.1 1023.1,1182.1 1023.3,1180.1 1023.5,1178.1 1023.7,1176.1 1023.9,1174.1 1024.1,1172.1 1024.2,1170.1 1024.4,1168.1 1024.6,1166.1 1024.8,1164.1 1025.0,1162.1 1025.2,1160.1 1025.4,1158.1 1025.6,1156.1 1025.8,1154.1 1026.0,1152.1 1026.1,1150.1 1026.3,1148.1 1026.5,1146.1 1026.7,1144.1 1026.9,1142.1 1027.1,1140.1 1027.3,1138.1 1027.4,1136.2 1027.6,1134.2 1027.8,1132.2 1028.0,1130.2 1028.2,1128.2 1028.3,1126.2 1028.5,1124.2 1028.7,1122.2 1028.9,1120.2 1029.1,1118.2 1029.2,1116.2 1029.4,1114.2 1029.6,1112.2 1029.8,1110.2 1029.9,1108.2 1030.1,1106.2 1030.3,1104.2 1030.5,1102.2 1030.6,1100.2 1030.8,1098.2 1031.0,1096.2 1031.2,1094.2 1031.3,1092.2 1031.5,1090.2 1031.7,1088.2 1031.9,1086.2 1032.0,1084.2 1032.2,1082.2 1032.4,1080.2 1032.5,1078.2 1032.7,1076.2 1032.9,1074.2 1033.1,1072.2 1033.2,1070.2 1033.4,1068.2 1033.6,1066.3 1033.7,1064.3 1033.9,1062.3 1034.1,1060.3 1034.2,1058.3 1034.4,1056.3 1034.6,1054.3 1034.7,1052.3 1034.9,1050.3 1035.1,1048.3 1035.2,1046.3 1035.4,1044.3 1035.6,1042.3 1035.7,1040.3 1035.9,1038.3 1036.1,1036.3 1036.2,1034.3 1036.4,1032.3 1036.6,1030.3 1036.7,1028.3 1036.9,1026.3 1037.1,1024.3 1037.2,1022.4 1037.4,1020.4 1037.6,1018.4 1037.7,1016.4 1037.9,1014.4 1038.1,1012.4 1038.2,1010.4 1038.4,1008.4 1038.6,1006.4 1038.7,1004.4 1038.9,1002.4 1039.1,1000.4 1039.2,998.4 1039.4,996.4 1039.6,994.4 1039.7,992.4 1039.9,990.4 1040.1,988.4 1040.2,986.5 1040.4,984.5 1040.6,982.5 1040.7,980.5 1040.9,978.5 1041.1,976.5 1041.2,974.5 1041.4,972.5 1041.6,970.5 1041.7,968.5 1041.9,966.5 1042.1,964.5 1042.2,962.5 1042.4,960.5 1042.6,958.5 1042.7,956.5 1042.9,954.6 1043.1,952.6 1043.2,950.6 1043.4,948.6 1043.6,946.6 1043.8,944.6 1043.9,942.6 1044.1,940.6 1044.3,938.6 1044.4,936.6 1044.6,934.6 1044.8,932.6 1044.9,930.6 1045.1,928.6 1045.3,926.7 1045.5,924.7 1045.6,922.7 1045.8,920.7 1046.0,918.7 1046.2,916.7 1046.3,914.7 1046.5,912.7 1046.7,910.7 1046.9,908.7 1047.0,906.7 1047.2,904.7 1047.4,902.7 1047.6,900.8 1047.8,898.8 1047.9,896.8 1048.1,894.8 1048.3,892.8 1048.5,890.8 1048.7,888.8 1048.8,886.8 1049.0,884.8 1049.2,882.8 1049.4,880.8 1049.6,878.8 1049.7,876.9 1049.9,874.9 1050.1,872.9 1050.3,870.9 1050.5,868.9 1050.7,866.9 1050.9,864.9 1051.1,862.9 1051.2,860.9 1051.4,858.9 1051.6,856.9 1051.8,854.9 1052.0,853.0 1052.2,851.0 1052.4,849.0 1052.6,847.0 1052.8,845.0 1053.0,843.0 1053.2,841.0 1053.4,839.0 1053.6,837.0 1053.8,835.0 1054.0,833.0 1054.2,831.1 1054.4,829.1 1054.6,827.1 1054.8,825.1 1055.0,823.1 1055.2,821.1 1055.4,819.1 1055.6,817.1 1055.8,815.1 1056.0,813.1 1056.2,811.2 1056.4,809.2 1056.6,807.2 1056.8,805.2 1057.0,803.2 1057.2,801.2 1057.4,799.2 1057.7,797.2 1057.9,795.2 1058.1,793.2 1058.3,791.3 1058.5,789.3 1058.7,787.3 1058.9,785.3 1059.2,783.3 1059.4,781.3 1059.6,779.3 1059.8,777.3 1060.0,775.3 1060.3,773.3 1060.5,771.3 1060.7,769.4 1060.9,767.4 1061.2,765.4 1061.4,763.4 1061.6,761.4 1061.8,759.4 1062.1,757.4 1062.3,755.4 1062.5,753.4 1062.8,751.4 1063.0,749.4 1063.2,747.4 1063.4,745.4 1063.7,743.5 1063.9,741.5 1064.1,739.5 1064.4,737.5 1064.6,735.5 1064.8,733.5 1065.1,731.5 1065.3,729.5 1065.5,727.5 1065.8,725.5 1066.0,723.5 1066.3,721.5 1066.5,719.5 1066.7,717.5 1067.0,715.5 1067.2,713.5 1067.5,711.5 1067.7,709.5 1067.9,707.5 1068.2,705.5 1068.4,703.5 1068.7,701.5 1068.9,699.5 1069.1,697.5 1069.4,695.5 1069.6,693.5 1069.9,691.5 1070.1,689.5 1070.4,687.5 1070.6,685.5 1070.9,683.5 1071.1,681.5 1071.4,679.5 1071.6,677.5 1071.8,675.5 1072.1,673.5 1072.3,671.4 1072.6,669.4 1072.8,667.4 1073.1,665.4 1073.3,663.4 1073.6,661.4 1073.8,659.4 1074.1,657.4 1074.3,655.4 1074.6,653.4 1074.9,651.4 1075.1,649.4 1075.4,647.4 1075.6,645.4 1075.9,643.4 1076.1,641.4 1076.4,639.4 1076.6,637.4 1076.9,635.5 1077.1,633.5 1077.4,631.5 1077.7,629.5 1077.9,627.5 1078.2,625.6 1078.4,623.6 1078.7,621.6 1079.0,619.6 1079.2,617.7 1079.5,615.7 1079.7,613.8 1080.0,611.8 1080.3,609.8 1080.5,607.9 1080.8,605.9 1081.1,604.0 1081.3,602.1 1081.6,600.1 1081.9,598.2 1082.2,596.2 1082.4,594.3 1082.7,592.4 1083.0,590.4 1083.3,588.5 1083.6,586.6 1083.9,584.6 1084.2,582.7 1084.5,580.8 1084.8,578.9 1085.1,576.9 1085.4,575.0 1085.8,573.1 1086.1,571.1 1086.4,569.2 1086.8,567.3 1087.1,565.3 1087.5,563.4 1087.9,561.5 1088.2,559.5 1088.6,557.6 1089.0,555.6 1089.4,553.7 1089.8,551.8 1090.3,549.8 1090.7,547.8 1091.1,545.9 1091.6,543.9 1092.0,542.0 1092.5,540.0 1093.0,538.0 1093.5,536.1 1094.0,534.1 1094.5,532.1 1095.0,530.1 1095.5,528.1 1096.1,526.1 1096.7,524.1 1097.2,522.1 1097.8,520.1 1098.4,518.1 1099.0,516.1 1099.7,514.0 1100.3,512.0 1101.0,510.0 1101.7,508.0 1102.4,506.0 1103.2,504.0 1104.0,502.1 1104.9,500.3 1105.8,498.4 1106.8,496.7 1107.9,495.0 1109.0,493.4 1110.2,491.9 1111.5,490.6 1112.9,489.3 1114.4,488.1 1116.0,487.1 1117.7,486.2 1119.5,485.4 1121.3,484.9 1123.1,484.5 1125.0,484.4 1126.9,484.5 1128.8,484.8 1130.7,485.2 1132.6,485.9 1134.5,486.7 1136.3,487.6 1138.1,488.7 1139.9,489.9 1141.6,491.2 1143.2,492.6 1144.8,494.0 1146.3,495.5 1147.7,497.1 1149.1,498.7 1150.5,500.3 1151.8,502.0 1153.1,503.6 1154.3,505.2 1155.6,506.9 1156.7,508.5 1157.9,510.1 1159.0,511.7 1160.2,513.3 1161.3,514.9 1162.5,516.5 1163.6,518.0 1164.8,519.6 1165.9,521.2 1167.1,522.7 1168.3,524.2 1169.6,525.8 1170.8,527.3 1172.1,528.9 1173.3,530.4 1174.6,531.9 1175.8,533.4 1177.1,535.0 1178.4,536.5 1179.6,538.0 1180.9,539.6 1182.1,541.1 1183.4,542.7 1184.6,544.3 1185.8,545.9 1187.0,547.4 1188.2,549.0 1189.4,550.7 1190.6,552.3 1191.7,553.9 1192.9,555.5 1194.0,557.2 1195.1,558.8 1196.3,560.4 1197.4,562.1 1198.5,563.8 1199.6,565.4 1200.7,567.1 1201.7,568.8 1202.8,570.5 1203.9,572.2 1204.9,573.9 1206.0,575.6 1207.0,577.3 1208.1,579.0 1209.1,580.7 1210.1,582.5 1211.1,584.2 1212.1,585.9 1213.2,587.7 1214.2,589.4 1215.2,591.2 1216.1,592.9 1217.1,594.7 1218.1,596.4 1219.1,598.2 1220.1,599.9 1221.0,601.7 1222.0,603.5 1223.0,605.2 1223.9,607.0 1224.9,608.8 1225.9,610.5 1226.8,612.3 1227.8,614.1 1228.7,615.9 1229.7,617.6 1230.6,619.4 1231.6,621.2 1232.5,623.0 1233.5,624.7 1234.4,626.5 1235.4,628.3 1236.3,630.1 1237.3,631.9 1238.3,633.6 1239.2,635.4 1240.2,637.2 1241.1,638.9 1242.1,640.7 1243.0,642.5 1244.0,644.2 1245.0,646.0 1245.9,647.8 1246.9,649.5 1247.9,651.3 1248.9,653.0 1249.9,654.8 1250.8,656.5 1251.8,658.3 1252.8,660.0 1253.8,661.7 1254.8,663.5 1255.8,665.2 1256.8,667.0 1257.8,668.7 1258.8,670.4 1259.8,672.1 1260.8,673.9 1261.8,675.6 1262.8,677.3 1263.9,679.0 1264.9,680.8 1265.9,682.5 1266.9,684.2 1267.9,685.9 1268.9,687.6 1270.0,689.4 1271.0,691.1 1272.0,692.8 1273.0,694.5 1274.1,696.2 1275.1,697.9 1276.1,699.6 1277.2,701.3 1278.2,703.0 1279.2,704.7 1280.3,706.5 1281.3,708.2 1282.3,709.9 1283.4,711.6 1284.4,713.3 1285.5,715.0 1286.5,716.7 1287.5,718.4 1288.6,720.1 1289.6,721.8 1290.7,723.5 1291.7,725.2 1292.7,726.9 1293.8,728.6 1294.8,730.3 1295.9,732.0 1296.9,733.7 1298.0,735.4 1299.0,737.1 1300.0,738.8 1301.1,740.5 1302.1,742.2 1303.2,743.9 1304.2,745.6 1305.2,747.3 1306.3,749.0 1307.3,750.7 1308.4,752.4 1309.4,754.1 1310.5,755.9 1311.5,757.6 1312.5,759.3 1313.6,761.0 1314.6,762.7 1315.7,764.4 1316.7,766.1 1317.7,767.8 1318.8,769.5 1319.8,771.2 1320.9,772.9 1321.9,774.6 1322.9,776.4 1324.0,778.1 1325.0,779.8 1326.1,781.5 1327.1,783.2 1328.1,784.9 1329.2,786.6 1330.2,788.3 1331.3,790.0 1332.3,791.8 1333.3,793.5 1334.4,795.2 1335.4,796.9 1336.5,798.6 1337.5,800.3 1338.5,802.0 1339.6,803.7 1340.6,805.5 1341.7,807.2 1342.7,808.9 1343.8,810.6 1344.8,812.3 1345.8,814.0 1346.9,815.7 1347.9,817.5 1349.0,819.2 1350.0,820.9 1351.1,822.6 1352.1,824.3 1353.1,826.0 1354.2,827.7 1355.2,829.4 1356.3,831.2 1357.3,832.9 1358.4,834.6 1359.4,836.3 1360.5,838.0 1361.5,839.7 1362.6,841.4 1363.6,843.1 1364.6,844.9 1365.7,846.6 1366.7,848.3 1367.8,850.0 1368.8,851.7 1369.9,853.4 1370.9,855.1 1372.0,856.8 1373.0,858.5 1374.1,860.3 1375.1,862.0 1376.2,863.7 1377.2,865.4 1378.3,867.1 1379.4,868.8 1380.4,870.5 1381.5,872.2 1382.5,873.9 1383.6,875.6 1384.6,877.4 1385.7,879.1 1386.7,880.8 1387.8,882.5 1388.9,884.2 1389.9,885.9 1391.0,887.6 1392.0,889.3 1393.1,891.0 1394.2,892.7 1395.2,894.4 1396.3,896.1 1397.4,897.8 1398.4,899.5 1399.5,901.2 1400.6,902.9 1401.6,904.6 1402.7,906.3 1403.8,908.0 1404.8,909.7 1405.9,911.4 1407.0,913.1 1408.0,914.8 1409.1,916.5 1410.2,918.2 1411.3,919.9 1412.3,921.6 1413.4,923.3 1414.5,925.0 1415.6,926.7 1416.6,928.4 1417.7,930.1 1418.8,931.8 1419.9,933.5 1421.0,935.2 1422.0,936.9 1423.1,938.6 1424.2,940.3 1425.3,941.9 1426.4,943.6 1427.5,945.3 1428.5,947.0 1429.6,948.7 1430.7,950.4 1431.8,952.1 1432.9,953.8 1434.0,955.4 1435.1,957.1 1436.2,958.8 1437.3,960.5 1438.4,962.2 1439.5,963.9 1440.6,965.5 1441.7,967.2 1442.8,968.9 1443.9,970.6 1445.0,972.3 1446.1,973.9 1447.2,975.6 1448.3,977.3 1449.4,978.9 1450.5,980.6 1451.6,982.3 1452.7,984.0 1453.8,985.6 1455.0,987.3 1456.1,989.0 1457.2,990.6 1458.3,992.3 1459.4,994.0 1460.5,995.6 1461.7,997.3 1462.8,999.0 1463.9,1000.6 1465.0,1002.3 1466.1,1003.9 1467.3,1005.6 1468.4,1007.3 1469.5,1008.9 1470.7,1010.6 1471.8,1012.2 1472.9,1013.9 1474.1,1015.5 1475.2,1017.2 1476.3,1018.8 1477.5,1020.5 1478.6,1022.1 1479.8,1023.8 1480.9,1025.4 1482.0,1027.1 1483.2,1028.7 1484.3,1030.4 1485.5,1032.0 1486.6,1033.7 1487.8,1035.3 1488.9,1036.9 1490.1,1038.6 1491.2,1040.2 1492.4,1041.8 1493.6,1043.5 1494.7,1045.1 1495.9,1046.7 1497.0,1048.4 1498.2,1050.0 1499.4,1051.6 1500.5,1053.3 1501.7,1054.9 1502.9,1056.5 1504.1,1058.1 1505.2,1059.7 1506.4,1061.4 1507.6,1063.0 1508.8,1064.6 1509.9,1066.2 1511.1,1067.8 1512.3,1069.4 1513.5,1071.1 1514.7,1072.7 1515.9,1074.3 1517.1,1075.9 1518.3,1077.5 1519.5,1079.1 1520.7,1080.7 1521.8,1082.3 1523.0,1083.9 1524.2,1085.5 1525.5,1087.1 1526.7,1088.7 1527.9,1090.3 1529.1,1091.9 1530.3,1093.5 1531.5,1095.1 1532.7,1096.7 1533.9,1098.3 1535.1,1099.8 1536.4,1101.4 1537.6,1103.0 1538.8,1104.6 1540.0,1106.2 1541.3,1107.8 1542.5,1109.3 1543.7,1110.9 1544.9,1112.5 1546.2,1114.1 1547.4,1115.6 1548.7,1117.2 1549.9,1118.8 1551.1,1120.3 1552.4,1121.9 1553.6,1123.5 1554.9,1125.0 1556.1,1126.6 1557.4,1128.1 1558.6,1129.7 1559.9,1131.2 1561.1,1132.8 1562.4,1134.4 1563.7,1135.9 1564.9,1137.4 1566.2,1139.0 1567.5,1140.5 1568.7,1142.1 1570.0,1143.6 1571.3,1145.2 1572.6,1146.7 1573.8,1148.2 1575.1,1149.8 1576.4,1151.3 1577.7,1152.8 1579.0,1154.4 1580.3,1155.9 1581.6,1157.4 1582.9,1158.9 1584.2,1160.5 1585.5,1162.0 1586.8,1163.5 1588.1,1165.0 1589.4,1166.5 1590.7,1168.0 1592.0,1169.5 1593.3,1171.0 1594.6,1172.6 1595.9,1174.1 1597.2,1175.6 1598.6,1177.1 1599.9,1178.6 1601.2,1180.1 1602.5,1181.5 1603.9,1183.0 1605.2,1184.5 1606.5,1186.0 1607.9,1187.5 1609.2,1189.0 1610.6,1190.5 1611.9,1191.9 1613.3,1193.4 1614.6,1194.9 1616.0,1196.4 1617.3,1197.8 1618.7,1199.3 1620.0,1200.8 1621.4,1202.2 1622.8,1203.7 1624.1,1205.2 1625.5,1206.6 1626.9,1208.1 1628.2,1209.5 1629.6,1211.0 1631.0,1212.4 1632.4,1213.9 1633.8,1215.3 1635.2,1216.8 1636.5,1218.2 1637.9,1219.7 1639.3,1221.1 1640.7,1222.5 1642.1,1224.0 1643.5,1225.4 1644.9,1226.8 1646.4,1228.2 1647.8,1229.7 1649.2,1231.1 1650.6,1232.5 1652.0,1233.9 1653.4,1235.3 1654.9,1236.8 1656.3,1238.2 1657.7,1239.6 1659.2,1241.0 1660.6,1242.4 1662.0,1243.8 1663.5,1245.2 1664.9,1246.6 1666.4,1248.0 1667.8,1249.4 1669.3,1250.7 1670.7,1252.1 1672.2,1253.5 1673.6,1254.9 1675.1,1256.3 1676.6,1257.6 1678.0,1259.0 1679.5,1260.4 1681.0,1261.7 1682.5,1263.1 1683.9,1264.5 1685.4,1265.8 1686.9,1267.2 1688.4,1268.5 1689.9,1269.9 1691.4,1271.2 1692.9,1272.5 1694.4,1273.9 1695.9,1275.2 1697.4,1276.6 1698.9,1277.9 1700.4,1279.2 1701.9,1280.5 1703.4,1281.8 1705.0,1283.2 1706.5,1284.5 1708.0,1285.8 1709.5,1287.1 1711.1,1288.4 1712.6,1289.7 1714.2,1291.0 1715.7,1292.3 1717.2,1293.5 1718.8,1294.8 1720.3,1296.1 1721.9,1297.4 1723.4,1298.6 1725.0,1299.9 1726.6,1301.2 1728.1,1302.4 1729.7,1303.7 1731.3,1304.9 1732.8,1306.2 1734.4,1307.4 1736.0,1308.7 1737.6,1309.9 1739.2,1311.1 1740.8,1312.4 1742.4,1313.6 1744.0,1314.8 1745.6,1316.0 1747.2,1317.2 1748.8,1318.4 1750.4,1319.6 1752.0,1320.8 1753.6,1322.0 1755.2,1323.2 1756.8,1324.4 1758.5,1325.5 1760.1,1326.7 1761.7,1327.9 1763.3,1329.0 1765.0,1330.2 1766.6,1331.4 1768.3,1332.5 1769.9,1333.7 1771.6,1334.8 1773.2,1335.9 1774.9,1337.1 1776.5,1338.2 1778.2,1339.3 1779.9,1340.4 1781.5,1341.5 1783.2,1342.6 1784.9,1343.7 1786.5,1344.8 1788.2,1345.9 1789.9,1347.0 1791.6,1348.1 1793.3,1349.1 1795.0,1350.2 1796.7,1351.3 1798.4,1352.3 1800.1,1353.4 1801.8,1354.4 1803.5,1355.5 1805.2,1356.5 1806.9,1357.5 1808.7,1358.6 1810.4,1359.6 1812.1,1360.6 1813.8,1361.6 1815.6,1362.6 1817.3,1363.6 1819.0,1364.6 1820.8,1365.6 1822.5,1366.6 1824.3,1367.5 1826.0,1368.5 1827.8,1369.5 1829.5,1370.4 1831.3,1371.4 1833.1,1372.4 1834.8,1373.3 1836.6,1374.2 1838.4,1375.2 1840.1,1376.1 1841.9,1377.0 1843.7,1377.9 1845.5,1378.9 1847.2,1379.8 1849.0,1380.7 1850.8,1381.6 1852.6,1382.5 1854.4,1383.4 1856.2,1384.2 1858.0,1385.1 1859.8,1386.0 1861.6,1386.9 1863.4,1387.7 1865.2,1388.6 1867.0,1389.4 1868.9,1390.3 1870.7,1391.1 1872.5,1392.0 1874.3,1392.8 1876.1,1393.6 1878.0,1394.4 1879.8,1395.3 1881.6,1396.1 1883.5,1396.9 1885.3,1397.7 1887.1,1398.5 1889.0,1399.3 1890.8,1400.1 1892.7,1400.9 1894.5,1401.6 1896.3,1402.4 1898.2,1403.2 1900.0,1403.9 1901.9,1404.7 1903.8,1405.4 1905.6,1406.2 1907.5,1406.9 1909.3,1407.7 1911.2,1408.4 1913.1,1409.1 1914.9,1409.9 1916.8,1410.6 1918.7,1411.3 1920.6,1412.0 1922.4,1412.7 1924.3,1413.4 1926.2,1414.1 1928.1,1414.8 1930.0,1415.5 1931.8,1416.2 1933.7,1416.8 1935.6,1417.5 1937.5,1418.2 1939.4,1418.8 1941.3,1419.5 1943.2,1420.1 1945.1,1420.8 1947.0,1421.4 1948.9,1422.1 1950.8,1422.7 1952.7,1423.3 1954.6,1423.9 1956.5,1424.6 1958.4,1425.2 1960.3,1425.8 1962.2,1426.4 1964.1,1427.0 1966.0,1427.6 1968.0,1428.2 1969.9,1428.8 1971.8,1429.3 1973.7,1429.9 1975.6,1430.5 1977.6,1431.0 1979.5,1431.6 1981.4,1432.2 1983.3,1432.7 1985.2,1433.3 1987.2,1433.8 1989.1,1434.4 1991.0,1434.9 1993.0,1435.4 1994.9,1435.9 1996.8,1436.5 1998.8,1437.0 2000.7,1437.5 2002.6,1438.0 2004.6,1438.5 2006.5,1439.0 2008.4,1439.5 2010.4,1440.0 2012.3,1440.5 2014.3,1441.0 2016.2,1441.5 2018.2,1441.9 2020.1,1442.4 2022.0,1442.9 2024.0,1443.4 2025.9,1443.8 2027.9,1444.3 2029.8,1444.7 2031.8,1445.2 2033.7,1445.6 2035.7,1446.1 2037.7,1446.5 2039.6,1446.9 2041.6,1447.4 2043.5,1447.8 2045.5,1448.2 2047.4,1448.6 2049.4,1449.1 2051.4,1449.5 2053.3,1449.9 2055.3,1450.3 2057.2,1450.7 2059.2,1451.1 2061.2,1451.5 2063.1,1451.9 2065.1,1452.3 2067.1,1452.7 2069.0,1453.0 2071.0,1453.4 2073.0,1453.8 2074.9,1454.2 2076.9,1454.5 2078.9,1454.9 2080.9,1455.3 2082.8,1455.6 2084.8,1456.0 2086.8,1456.4 2088.7,1456.7 2090.7,1457.1 2092.7,1457.4 2094.7,1457.7 2096.6,1458.1 2098.6,1458.4 2100.6,1458.8 2102.6,1459.1 2104.6,1459.4 2106.5,1459.7 2108.5,1460.1 2110.5,1460.4 2112.5,1460.7 2114.4,1461.0 2116.4,1461.3 2118.4,1461.6 2120.4,1461.9 2122.4,1462.2 2124.4,1462.6 2126.3,1462.9 2128.3,1463.1 2130.3,1463.4 2132.3,1463.7 2134.3,1464.0 2136.3,1464.3 2138.2,1464.6 2140.2,1464.9 2142.2,1465.2 2144.2,1465.4 2146.2,1465.7 2148.2,1466.0 2150.2,1466.3 2152.1,1466.5 2154.1,1466.8 2156.1,1467.1 2158.1,1467.3 2160.1,1467.6 2162.1,1467.8 2164.1,1468.1 2166.0,1468.4 2168.0,1468.6 2170.0,1468.9 2172.0,1469.1 2174.0,1469.4 2176.0,1469.6 2178.0,1469.8 2180.0,1470.1 2182.0,1470.3 2183.9,1470.6 2185.9,1470.8 2187.9,1471.0 2189.9,1471.3 2191.9,1471.5 2193.9,1471.7 2195.9,1472.0 2197.9,1472.2 2199.8,1472.4 2201.8,1472.6"/>
</g>
<rect x="354.3" y="189.7" width="1847.5" height="1295.9" stroke="#000" stroke-width="4.2" fill="none"/>
<line x1="1966" y1="240.7" x2="2135" y2="240.7" stroke="#0000ff" stroke-width="11"/>
<line x1="1966" y1="307.9" x2="2135" y2="307.9" stroke="#00ff00" stroke-width="11"/>
<line x1="1966" y1="376.6" x2="2135" y2="376.6" stroke="#ff0000" stroke-width="11"/>
<g font-family='"Liberation Sans", Arial, sans-serif' fill="#000" stroke="#fff" stroke-width="1.3">
<text x="0" y="0" font-size="64" text-anchor="end" transform="translate(304.2 1498.8) scale(0.872 1)">0</text>
<text x="0" y="0" font-size="64" text-anchor="end" transform="translate(301.5 1369.2) scale(0.872 1)">0.1</text>
<text x="0" y="0" font-size="64" text-anchor="end" transform="translate(301.5 1239.6) scale(0.872 1)">0.2</text>
<text x="0" y="0" font-size="64" text-anchor="end" transform="translate(301.5 1110.0) scale(0.872 1)">0.3</text>
<text x="0" y="0" font-size="64" text-anchor="end" transform="translate(301.5 980.4) scale(0.872 1)">0.4</text>
<text x="0" y="0" font-size="64" text-anchor="end" transform="translate(301.5 850.8) scale(0.872 1)">0.5</text>
<text x="0" y="0" font-size="64" text-anchor="end" transform="translate(301.5 721.3) scale(0.872 1)">0.6</text>
<text x="0" y="0" font-size="64" text-anchor="end" transform="translate(301.5 591.7) scale(0.872 1)">0.7</text>
<text x="0" y="0" font-size="64" text-anchor="end" transform="translate(301.5 462.1) scale(0.872 1)">0.8</text>
<text x="0" y="0" font-size="64" text-anchor="end" transform="translate(301.5 332.5) scale(0.872 1)">0.9</text>
<text x="0" y="0" font-size="64" text-anchor="end" transform="translate(298.5 202.9) scale(0.872 1)">1</text>
<text x="0" y="0" font-size="62" text-anchor="middle" transform="translate(354.3 1566.5) scale(0.923 1)">300</text>
<text x="0" y="0" font-size="62" text-anchor="middle" transform="translate(585.2 1566.5) scale(0.923 1)">400</text>
<text x="0" y="0" font-size="62" text-anchor="middle" transform="translate(816.2 1566.5) scale(0.923 1)">500</text>
<text x="0" y="0" font-size="62" text-anchor="middle" transform="translate(1047.1 1566.5) scale(0.923 1)">600</text>
<text x="0" y="0" font-size="62" text-anchor="middle" transform="translate(1278.1 1566.5) scale(0.923 1)">700</text>
<text x="0" y="0" font-size="62" text-anchor="middle" transform="translate(1509.0 1566.5) scale(0.923 1)">800</text>
<text x="0" y="0" font-size="62" text-anchor="middle" transform="translate(1739.9 1566.5) scale(0.923 1)">900</text>
<text x="0" y="0" font-size="62" text-anchor="middle" transform="translate(1970.9 1566.5) scale(0.923 1)">1000</text>
<text x="0" y="0" font-size="62" text-anchor="middle" transform="translate(2201.8 1566.5) scale(0.923 1)">1100</text>
<text x="0" y="0" font-size="60" transform="translate(737.4 98.8) scale(0.964 1)">Synthetic</text>
<text x="0" y="0" font-size="60" transform="translate(988.3 98.8) scale(0.964 1)">CMOS</text>
<text x="0" y="0" font-size="60" transform="translate(1171.9 98.8) scale(0.995 1)">RGB</text>
<text x="0" y="0" font-size="60" transform="translate(1316.1 98.8) scale(0.956 1)">spectral</text>
<text x="0" y="0" font-size="60" transform="translate(1535.2 98.8) scale(0.964 1)">responses</text>
<text x="0" y="0" font-size="60" text-anchor="end" transform="translate(1923.5 253.2) scale(0.94 1)">blue</text>
<text x="0" y="0" font-size="60" text-anchor="end" transform="translate(1924.5 320.7) scale(0.94 1)">green</text>
<text x="0" y="0" font-size="60" text-anchor="end" transform="translate(1928.5 389.5) scale(0.985 1)">red</text>
</g>
<text x="0" y="0" font-size="62" font-family='"DejaVu Sans", sans-serif' fill="#1c1020" transform="translate(1007.7 1682.8) scale(0.897 1)">Wavelength</text>
<text x="0" y="0" font-size="62" font-family='"DejaVu Sans", sans-serif' fill="#1c1020" transform="translate(1350.7 1682.8) scale(0.96 1)">(nm)</text>
<text x="0" y="0" font-size="62" font-family='"DejaVu Sans", sans-serif' fill="#1c1020" transform="translate(129.6 1120.6) rotate(-90) scale(0.938 1)">Relative</text>
<text x="0" y="0" font-size="62" font-family='"DejaVu Sans", sans-serif' fill="#1c1020" transform="translate(129.6 871.8) rotate(-90) scale(0.962 1)">Response</text>
</svg>
</body></html>
